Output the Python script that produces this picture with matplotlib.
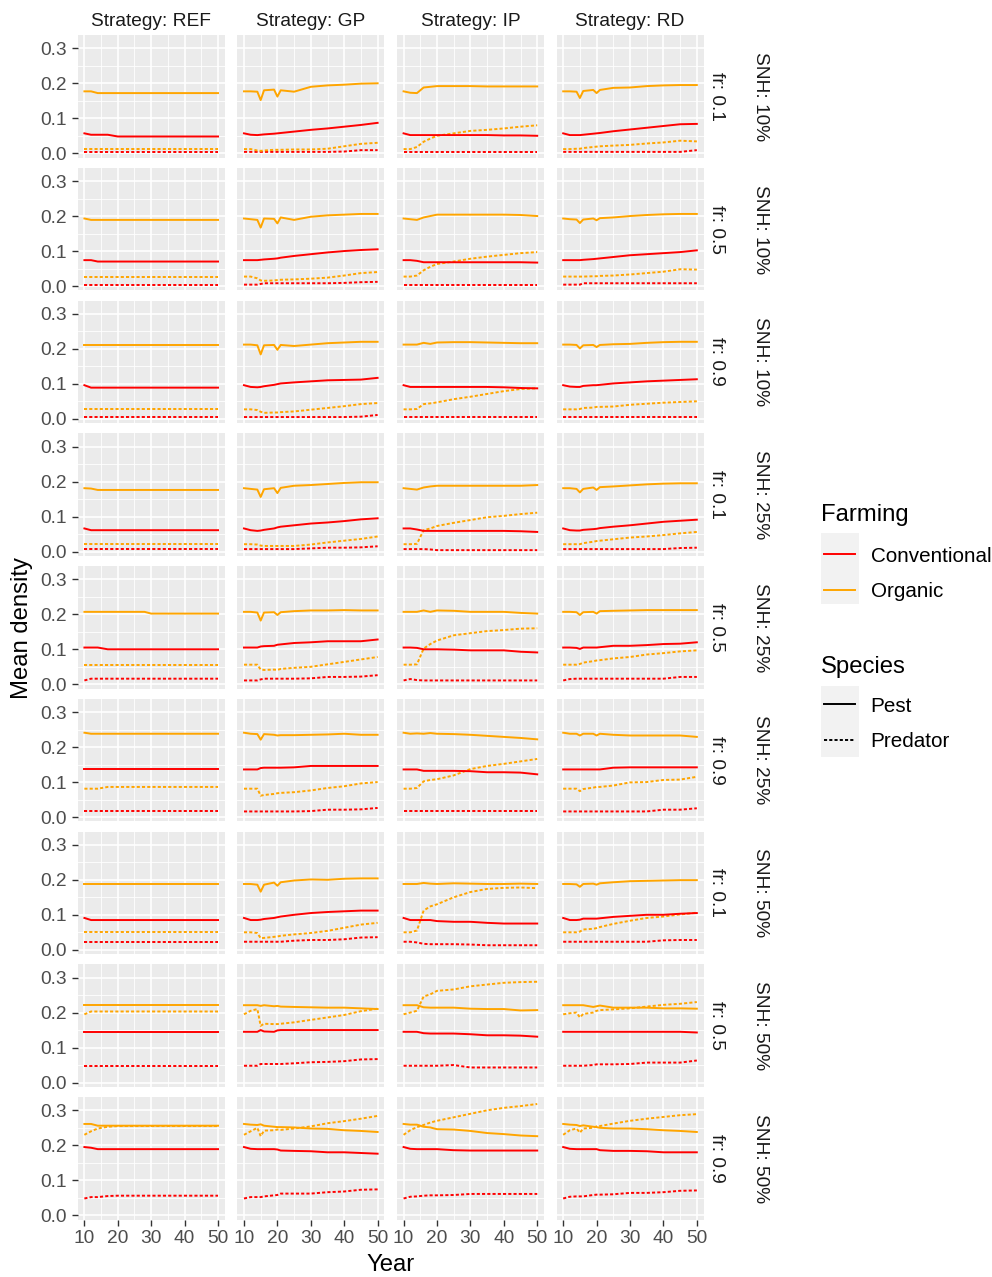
import numpy as np
import matplotlib.pyplot as plt
from matplotlib.patches import Rectangle
from matplotlib.lines import Line2D

plt.rcParams['font.family'] = ['Liberation Sans', 'DejaVu Sans']

# ---- data ----
STRATEGIES = ["REF", "GP", "IP", "RD"]
FR_LABELS = ["fr: 0.1", "fr: 0.5", "fr: 0.9"] * 3
SNH_LABELS = ["SNH: 10%"] * 3 + ["SNH: 25%"] * 3 + ["SNH: 50%"] * 3

REF_YEARS = [10, 12, 14, 17, 20, 28, 30, 50]
REF_CONV_PEST = [
    [0.057, 0.053, 0.053, 0.053, 0.048, 0.048, 0.048, 0.048],
    [0.074, 0.074, 0.070, 0.070, 0.070, 0.070, 0.070, 0.070],
    [0.096, 0.089, 0.089, 0.089, 0.089, 0.089, 0.089, 0.089],
    [0.066, 0.061, 0.061, 0.061, 0.061, 0.061, 0.061, 0.061],
    [0.105, 0.105, 0.105, 0.100, 0.100, 0.100, 0.100, 0.100],
    [0.136, 0.136, 0.136, 0.136, 0.136, 0.136, 0.136, 0.136],
    [0.091, 0.085, 0.085, 0.085, 0.085, 0.085, 0.085, 0.085],
    [0.145, 0.145, 0.145, 0.145, 0.145, 0.145, 0.145, 0.145],
    [0.195, 0.193, 0.189, 0.189, 0.189, 0.189, 0.189, 0.189],
]
REF_CONV_PRED = [
    [0.004, 0.004, 0.004, 0.004, 0.004, 0.004, 0.004, 0.004],
    [0.004, 0.004, 0.004, 0.004, 0.004, 0.004, 0.004, 0.004],
    [0.005, 0.005, 0.005, 0.005, 0.005, 0.005, 0.005, 0.005],
    [0.007, 0.007, 0.007, 0.007, 0.007, 0.007, 0.007, 0.007],
    [0.011, 0.016, 0.016, 0.016, 0.016, 0.016, 0.016, 0.016],
    [0.016, 0.016, 0.016, 0.016, 0.016, 0.016, 0.016, 0.016],
    [0.023, 0.023, 0.023, 0.023, 0.023, 0.023, 0.023, 0.023],
    [0.048, 0.048, 0.048, 0.048, 0.048, 0.048, 0.048, 0.048],
    [0.048, 0.052, 0.052, 0.055, 0.056, 0.056, 0.056, 0.056],
]
REF_ORG_PEST = [
    [0.177, 0.177, 0.172, 0.172, 0.172, 0.172, 0.172, 0.172],
    [0.193, 0.189, 0.189, 0.189, 0.189, 0.189, 0.189, 0.189],
    [0.212, 0.212, 0.212, 0.212, 0.212, 0.212, 0.212, 0.212],
    [0.181, 0.180, 0.176, 0.176, 0.176, 0.176, 0.176, 0.176],
    [0.207, 0.207, 0.207, 0.207, 0.207, 0.207, 0.202, 0.202],
    [0.241, 0.238, 0.238, 0.238, 0.238, 0.238, 0.238, 0.238],
    [0.188, 0.188, 0.188, 0.188, 0.188, 0.188, 0.188, 0.188],
    [0.221, 0.221, 0.221, 0.221, 0.221, 0.221, 0.221, 0.221],
    [0.261, 0.261, 0.256, 0.256, 0.256, 0.256, 0.256, 0.256],
]
REF_ORG_PRED = [
    [0.012, 0.012, 0.012, 0.012, 0.012, 0.012, 0.012, 0.012],
    [0.027, 0.027, 0.027, 0.027, 0.027, 0.027, 0.027, 0.027],
    [0.027, 0.027, 0.027, 0.027, 0.027, 0.027, 0.027, 0.027],
    [0.021, 0.021, 0.021, 0.021, 0.021, 0.021, 0.021, 0.021],
    [0.056, 0.056, 0.056, 0.056, 0.056, 0.056, 0.056, 0.056],
    [0.081, 0.081, 0.081, 0.086, 0.086, 0.086, 0.086, 0.086],
    [0.050, 0.050, 0.050, 0.050, 0.050, 0.050, 0.050, 0.050],
    [0.195, 0.203, 0.203, 0.203, 0.203, 0.203, 0.203, 0.203],
    [0.230, 0.240, 0.248, 0.253, 0.255, 0.255, 0.255, 0.255],
]

GP_YEARS = [10, 12, 14, 15, 16, 19, 20, 21, 25, 30, 35, 40, 45, 50]
GP_CONV_PEST = [
    [0.057, 0.053, 0.052, 0.053, 0.054, 0.056, 0.057, 0.058, 0.062, 0.067, 0.071, 0.076, 0.081, 0.087],
    [0.074, 0.074, 0.074, 0.075, 0.076, 0.078, 0.079, 0.081, 0.086, 0.091, 0.096, 0.100, 0.103, 0.105],
    [0.096, 0.091, 0.090, 0.091, 0.093, 0.097, 0.099, 0.101, 0.104, 0.107, 0.110, 0.111, 0.112, 0.117],
    [0.066, 0.061, 0.059, 0.060, 0.062, 0.066, 0.069, 0.071, 0.075, 0.080, 0.083, 0.087, 0.092, 0.095],
    [0.105, 0.105, 0.105, 0.108, 0.109, 0.110, 0.113, 0.114, 0.118, 0.120, 0.123, 0.123, 0.123, 0.128],
    [0.136, 0.136, 0.136, 0.140, 0.141, 0.141, 0.141, 0.141, 0.142, 0.146, 0.146, 0.146, 0.146, 0.146],
    [0.091, 0.085, 0.085, 0.086, 0.088, 0.091, 0.093, 0.095, 0.100, 0.105, 0.108, 0.110, 0.112, 0.112],
    [0.145, 0.145, 0.145, 0.150, 0.146, 0.145, 0.149, 0.150, 0.150, 0.150, 0.150, 0.150, 0.150, 0.150],
    [0.195, 0.190, 0.189, 0.189, 0.189, 0.189, 0.188, 0.185, 0.184, 0.183, 0.180, 0.180, 0.178, 0.176],
]
GP_CONV_PRED = [
    [0.004, 0.004, 0.004, 0.004, 0.004, 0.004, 0.004, 0.004, 0.004, 0.004, 0.004, 0.005, 0.009, 0.009],
    [0.004, 0.004, 0.004, 0.006, 0.008, 0.008, 0.008, 0.008, 0.008, 0.008, 0.008, 0.009, 0.011, 0.012],
    [0.005, 0.005, 0.005, 0.005, 0.005, 0.005, 0.005, 0.005, 0.005, 0.005, 0.005, 0.005, 0.006, 0.011],
    [0.007, 0.007, 0.007, 0.007, 0.007, 0.007, 0.007, 0.007, 0.007, 0.009, 0.011, 0.011, 0.012, 0.015],
    [0.011, 0.011, 0.011, 0.014, 0.016, 0.016, 0.016, 0.016, 0.016, 0.017, 0.021, 0.021, 0.022, 0.026],
    [0.016, 0.016, 0.016, 0.016, 0.016, 0.016, 0.016, 0.016, 0.016, 0.017, 0.021, 0.021, 0.022, 0.026],
    [0.023, 0.023, 0.023, 0.023, 0.023, 0.023, 0.023, 0.023, 0.026, 0.028, 0.028, 0.030, 0.035, 0.036],
    [0.048, 0.048, 0.048, 0.053, 0.053, 0.053, 0.053, 0.053, 0.055, 0.058, 0.059, 0.061, 0.066, 0.067],
    [0.048, 0.052, 0.052, 0.052, 0.054, 0.057, 0.058, 0.062, 0.062, 0.062, 0.066, 0.068, 0.073, 0.074],
]
GP_ORG_PEST = [
    [0.177, 0.177, 0.176, 0.152, 0.180, 0.182, 0.162, 0.180, 0.176, 0.190, 0.194, 0.196, 0.199, 0.200],
    [0.193, 0.191, 0.189, 0.167, 0.193, 0.192, 0.179, 0.196, 0.189, 0.198, 0.202, 0.204, 0.206, 0.206],
    [0.212, 0.212, 0.210, 0.184, 0.210, 0.211, 0.197, 0.211, 0.208, 0.212, 0.216, 0.218, 0.220, 0.220],
    [0.181, 0.179, 0.177, 0.156, 0.178, 0.181, 0.167, 0.182, 0.188, 0.190, 0.193, 0.196, 0.198, 0.198],
    [0.207, 0.207, 0.205, 0.182, 0.205, 0.206, 0.198, 0.206, 0.209, 0.211, 0.211, 0.212, 0.211, 0.211],
    [0.241, 0.238, 0.237, 0.221, 0.237, 0.235, 0.233, 0.234, 0.234, 0.235, 0.236, 0.238, 0.235, 0.235],
    [0.188, 0.188, 0.186, 0.166, 0.186, 0.192, 0.183, 0.193, 0.198, 0.201, 0.200, 0.203, 0.204, 0.204],
    [0.221, 0.221, 0.221, 0.219, 0.221, 0.218, 0.219, 0.217, 0.216, 0.215, 0.214, 0.214, 0.212, 0.210],
    [0.261, 0.259, 0.258, 0.260, 0.256, 0.253, 0.252, 0.252, 0.251, 0.248, 0.247, 0.243, 0.241, 0.238],
]
GP_ORG_PRED = [
    [0.012, 0.012, 0.008, 0.007, 0.008, 0.010, 0.010, 0.010, 0.011, 0.011, 0.013, 0.020, 0.027, 0.030],
    [0.027, 0.027, 0.022, 0.016, 0.015, 0.016, 0.017, 0.018, 0.019, 0.021, 0.024, 0.030, 0.037, 0.040],
    [0.027, 0.027, 0.025, 0.020, 0.017, 0.018, 0.018, 0.019, 0.021, 0.026, 0.031, 0.036, 0.042, 0.045],
    [0.021, 0.021, 0.020, 0.017, 0.016, 0.016, 0.016, 0.016, 0.016, 0.020, 0.026, 0.031, 0.036, 0.043],
    [0.056, 0.056, 0.056, 0.042, 0.041, 0.042, 0.041, 0.044, 0.047, 0.050, 0.057, 0.064, 0.071, 0.078],
    [0.081, 0.081, 0.081, 0.061, 0.063, 0.066, 0.068, 0.069, 0.071, 0.076, 0.083, 0.088, 0.096, 0.100],
    [0.050, 0.050, 0.048, 0.033, 0.034, 0.037, 0.038, 0.040, 0.044, 0.048, 0.054, 0.063, 0.072, 0.077],
    [0.195, 0.205, 0.210, 0.162, 0.168, 0.167, 0.167, 0.168, 0.172, 0.179, 0.186, 0.193, 0.204, 0.211],
    [0.230, 0.240, 0.250, 0.226, 0.242, 0.243, 0.245, 0.244, 0.248, 0.254, 0.263, 0.269, 0.276, 0.284],
]

IP_YEARS = [10, 12, 14, 16, 18, 20, 25, 30, 35, 40, 45, 50]
IP_CONV_PEST = [
    [0.057, 0.052, 0.052, 0.052, 0.052, 0.052, 0.052, 0.052, 0.052, 0.051, 0.051, 0.050],
    [0.074, 0.074, 0.072, 0.068, 0.068, 0.068, 0.068, 0.068, 0.068, 0.068, 0.068, 0.067],
    [0.096, 0.091, 0.091, 0.091, 0.091, 0.091, 0.091, 0.091, 0.091, 0.090, 0.088, 0.087],
    [0.066, 0.066, 0.063, 0.059, 0.059, 0.059, 0.059, 0.059, 0.059, 0.059, 0.058, 0.056],
    [0.105, 0.105, 0.104, 0.100, 0.100, 0.100, 0.099, 0.097, 0.097, 0.097, 0.093, 0.091],
    [0.136, 0.136, 0.136, 0.132, 0.132, 0.132, 0.132, 0.131, 0.128, 0.128, 0.127, 0.122],
    [0.091, 0.085, 0.085, 0.085, 0.085, 0.082, 0.080, 0.080, 0.077, 0.075, 0.075, 0.075],
    [0.145, 0.145, 0.145, 0.141, 0.140, 0.140, 0.140, 0.138, 0.135, 0.135, 0.134, 0.131],
    [0.195, 0.190, 0.189, 0.189, 0.189, 0.189, 0.186, 0.185, 0.185, 0.185, 0.185, 0.185],
]
IP_CONV_PRED = [
    [0.004, 0.004, 0.004, 0.004, 0.004, 0.004, 0.004, 0.004, 0.004, 0.004, 0.004, 0.004],
    [0.004, 0.004, 0.004, 0.004, 0.004, 0.004, 0.004, 0.004, 0.004, 0.004, 0.004, 0.004],
    [0.005, 0.005, 0.005, 0.005, 0.005, 0.005, 0.005, 0.005, 0.005, 0.005, 0.005, 0.005],
    [0.007, 0.007, 0.007, 0.007, 0.006, 0.004, 0.004, 0.004, 0.004, 0.004, 0.004, 0.004],
    [0.011, 0.015, 0.012, 0.011, 0.011, 0.011, 0.011, 0.011, 0.011, 0.011, 0.011, 0.011],
    [0.016, 0.016, 0.016, 0.016, 0.016, 0.016, 0.016, 0.016, 0.016, 0.016, 0.016, 0.016],
    [0.023, 0.023, 0.021, 0.017, 0.016, 0.016, 0.016, 0.015, 0.013, 0.013, 0.013, 0.013],
    [0.048, 0.048, 0.048, 0.048, 0.048, 0.048, 0.050, 0.043, 0.043, 0.043, 0.043, 0.043],
    [0.048, 0.053, 0.054, 0.056, 0.057, 0.057, 0.058, 0.061, 0.061, 0.061, 0.061, 0.061],
]
IP_ORG_PEST = [
    [0.177, 0.173, 0.172, 0.188, 0.190, 0.192, 0.192, 0.192, 0.191, 0.191, 0.191, 0.191],
    [0.193, 0.191, 0.189, 0.196, 0.200, 0.204, 0.204, 0.204, 0.204, 0.204, 0.203, 0.200],
    [0.212, 0.212, 0.212, 0.217, 0.214, 0.218, 0.219, 0.219, 0.218, 0.217, 0.216, 0.216],
    [0.181, 0.179, 0.177, 0.183, 0.186, 0.188, 0.188, 0.188, 0.188, 0.188, 0.188, 0.190],
    [0.207, 0.207, 0.207, 0.211, 0.207, 0.211, 0.210, 0.207, 0.207, 0.207, 0.204, 0.202],
    [0.241, 0.238, 0.239, 0.238, 0.240, 0.238, 0.237, 0.235, 0.232, 0.229, 0.226, 0.222],
    [0.188, 0.188, 0.188, 0.191, 0.189, 0.188, 0.190, 0.189, 0.188, 0.188, 0.189, 0.188],
    [0.221, 0.221, 0.221, 0.215, 0.214, 0.214, 0.214, 0.211, 0.210, 0.210, 0.206, 0.207],
    [0.261, 0.259, 0.259, 0.253, 0.251, 0.246, 0.245, 0.241, 0.235, 0.232, 0.228, 0.226],
]
IP_ORG_PRED = [
    [0.012, 0.012, 0.018, 0.033, 0.042, 0.050, 0.057, 0.064, 0.067, 0.071, 0.076, 0.080],
    [0.027, 0.027, 0.030, 0.045, 0.055, 0.063, 0.070, 0.078, 0.084, 0.089, 0.094, 0.097],
    [0.027, 0.027, 0.028, 0.042, 0.044, 0.047, 0.056, 0.063, 0.071, 0.079, 0.085, 0.087],
    [0.021, 0.021, 0.022, 0.061, 0.066, 0.073, 0.082, 0.090, 0.098, 0.102, 0.107, 0.111],
    [0.056, 0.056, 0.057, 0.102, 0.115, 0.125, 0.140, 0.146, 0.152, 0.155, 0.159, 0.160],
    [0.081, 0.081, 0.083, 0.102, 0.106, 0.108, 0.119, 0.137, 0.146, 0.152, 0.159, 0.166],
    [0.050, 0.050, 0.055, 0.112, 0.124, 0.130, 0.150, 0.165, 0.174, 0.177, 0.178, 0.176],
    [0.195, 0.200, 0.205, 0.246, 0.252, 0.262, 0.266, 0.275, 0.280, 0.285, 0.287, 0.288],
    [0.230, 0.243, 0.252, 0.258, 0.265, 0.270, 0.280, 0.290, 0.300, 0.307, 0.312, 0.318],
]

RD_YEARS = [10, 12, 14, 15, 16, 19, 20, 21, 25, 30, 35, 40, 45, 50]
RD_CONV_PEST = [
    [0.057, 0.052, 0.052, 0.052, 0.053, 0.056, 0.057, 0.058, 0.063, 0.068, 0.073, 0.078, 0.083, 0.084],
    [0.074, 0.074, 0.074, 0.074, 0.075, 0.077, 0.078, 0.079, 0.083, 0.088, 0.091, 0.094, 0.097, 0.102],
    [0.096, 0.092, 0.091, 0.091, 0.094, 0.096, 0.096, 0.097, 0.101, 0.104, 0.107, 0.109, 0.111, 0.113],
    [0.066, 0.061, 0.060, 0.060, 0.062, 0.064, 0.065, 0.067, 0.071, 0.075, 0.080, 0.085, 0.088, 0.091],
    [0.105, 0.105, 0.104, 0.101, 0.105, 0.105, 0.105, 0.106, 0.110, 0.110, 0.112, 0.115, 0.116, 0.120],
    [0.136, 0.136, 0.136, 0.136, 0.136, 0.136, 0.136, 0.136, 0.141, 0.142, 0.142, 0.142, 0.142, 0.142],
    [0.091, 0.085, 0.085, 0.086, 0.089, 0.089, 0.089, 0.090, 0.094, 0.097, 0.100, 0.100, 0.103, 0.105],
    [0.145, 0.145, 0.145, 0.145, 0.145, 0.145, 0.145, 0.145, 0.145, 0.145, 0.145, 0.145, 0.145, 0.143],
    [0.195, 0.190, 0.189, 0.189, 0.189, 0.189, 0.189, 0.186, 0.184, 0.184, 0.183, 0.180, 0.180, 0.180],
]
RD_CONV_PRED = [
    [0.004, 0.004, 0.004, 0.004, 0.004, 0.004, 0.004, 0.004, 0.004, 0.004, 0.004, 0.004, 0.004, 0.009],
    [0.004, 0.004, 0.004, 0.004, 0.008, 0.008, 0.008, 0.008, 0.008, 0.008, 0.008, 0.008, 0.008, 0.008],
    [0.005, 0.005, 0.005, 0.005, 0.005, 0.005, 0.005, 0.005, 0.005, 0.005, 0.005, 0.005, 0.005, 0.005],
    [0.007, 0.007, 0.007, 0.007, 0.007, 0.007, 0.007, 0.007, 0.007, 0.007, 0.007, 0.007, 0.010, 0.011],
    [0.011, 0.015, 0.016, 0.016, 0.016, 0.016, 0.016, 0.016, 0.016, 0.016, 0.016, 0.016, 0.021, 0.021],
    [0.016, 0.016, 0.016, 0.016, 0.016, 0.016, 0.016, 0.016, 0.016, 0.016, 0.016, 0.021, 0.021, 0.025],
    [0.023, 0.023, 0.023, 0.023, 0.023, 0.023, 0.023, 0.023, 0.023, 0.023, 0.023, 0.027, 0.028, 0.028],
    [0.048, 0.048, 0.048, 0.048, 0.048, 0.050, 0.052, 0.052, 0.052, 0.053, 0.057, 0.057, 0.057, 0.063],
    [0.048, 0.053, 0.054, 0.054, 0.054, 0.058, 0.059, 0.059, 0.060, 0.064, 0.064, 0.066, 0.070, 0.071],
]
RD_ORG_PEST = [
    [0.177, 0.177, 0.176, 0.158, 0.178, 0.181, 0.172, 0.181, 0.187, 0.188, 0.192, 0.194, 0.195, 0.195],
    [0.193, 0.191, 0.190, 0.180, 0.190, 0.193, 0.188, 0.194, 0.196, 0.200, 0.203, 0.205, 0.206, 0.206],
    [0.212, 0.212, 0.211, 0.201, 0.210, 0.211, 0.205, 0.211, 0.213, 0.214, 0.217, 0.219, 0.220, 0.220],
    [0.181, 0.181, 0.179, 0.169, 0.179, 0.183, 0.176, 0.184, 0.186, 0.189, 0.192, 0.194, 0.195, 0.195],
    [0.207, 0.207, 0.206, 0.198, 0.206, 0.207, 0.202, 0.209, 0.210, 0.211, 0.212, 0.212, 0.212, 0.212],
    [0.241, 0.238, 0.238, 0.233, 0.238, 0.238, 0.233, 0.238, 0.235, 0.233, 0.233, 0.233, 0.233, 0.229],
    [0.188, 0.188, 0.187, 0.180, 0.188, 0.189, 0.186, 0.190, 0.193, 0.196, 0.197, 0.198, 0.199, 0.199],
    [0.221, 0.221, 0.221, 0.221, 0.221, 0.216, 0.218, 0.220, 0.214, 0.214, 0.214, 0.212, 0.212, 0.211],
    [0.261, 0.259, 0.258, 0.255, 0.257, 0.253, 0.252, 0.250, 0.248, 0.248, 0.246, 0.243, 0.241, 0.238],
]
RD_ORG_PRED = [
    [0.012, 0.012, 0.013, 0.013, 0.015, 0.018, 0.019, 0.020, 0.022, 0.024, 0.028, 0.031, 0.036, 0.034],
    [0.027, 0.027, 0.027, 0.027, 0.027, 0.028, 0.028, 0.029, 0.030, 0.033, 0.037, 0.041, 0.048, 0.047],
    [0.027, 0.027, 0.027, 0.028, 0.031, 0.032, 0.034, 0.034, 0.035, 0.040, 0.043, 0.046, 0.048, 0.050],
    [0.021, 0.021, 0.021, 0.021, 0.024, 0.028, 0.030, 0.031, 0.035, 0.040, 0.043, 0.047, 0.052, 0.056],
    [0.056, 0.056, 0.056, 0.058, 0.062, 0.066, 0.068, 0.069, 0.074, 0.078, 0.085, 0.089, 0.094, 0.097],
    [0.081, 0.081, 0.081, 0.074, 0.080, 0.084, 0.086, 0.086, 0.090, 0.099, 0.100, 0.106, 0.107, 0.115],
    [0.050, 0.050, 0.050, 0.052, 0.058, 0.060, 0.062, 0.065, 0.074, 0.083, 0.091, 0.095, 0.101, 0.106],
    [0.195, 0.198, 0.200, 0.186, 0.196, 0.200, 0.205, 0.207, 0.209, 0.212, 0.217, 0.222, 0.225, 0.230],
    [0.230, 0.243, 0.248, 0.236, 0.248, 0.250, 0.254, 0.255, 0.262, 0.270, 0.276, 0.281, 0.286, 0.289],
]

DATA = {
    "REF": (REF_YEARS, REF_CONV_PEST, REF_CONV_PRED, REF_ORG_PEST, REF_ORG_PRED),
    "GP": (GP_YEARS, GP_CONV_PEST, GP_CONV_PRED, GP_ORG_PEST, GP_ORG_PRED),
    "IP": (IP_YEARS, IP_CONV_PEST, IP_CONV_PRED, IP_ORG_PEST, IP_ORG_PRED),
    "RD": (RD_YEARS, RD_CONV_PEST, RD_CONV_PRED, RD_ORG_PEST, RD_ORG_PRED),
}

# ---- styling ----
RED = "#FF0000"
ORANGE = "#FFA500"
LW = 1.4
DOT = (0, (1.6, 1.1))
SMALL = 13.8
LEG = 14.9
BIG = 17.2

W, H = 992, 1277
PANEL_L, PANEL_T = 77.7, 35.0
PW, PH = 147.0, 122.7
DX, DY = 159.6, 132.75

fig = plt.figure(figsize=(W / 100, H / 100), dpi=100)
fig.patch.set_facecolor("white")

for i in range(9):
    for j, s in enumerate(STRATEGIES):
        left = PANEL_L + j * DX
        top = PANEL_T + i * DY
        ax = fig.add_axes([left / W, 1 - (top + PH) / H, PW / W, PH / H])
        ax.set_facecolor("#EBEBEB")
        for sp in ax.spines.values():
            sp.set_visible(False)
        ax.set_xlim(8, 52)
        ax.set_ylim(-0.0126, 0.338)
        ax.set_xticks([10, 20, 30, 40, 50])
        ax.set_xticks([15, 25, 35, 45], minor=True)
        ax.set_yticks([0.0, 0.1, 0.2, 0.3])
        ax.set_yticks([0.05, 0.15, 0.25], minor=True)
        ax.set_yticklabels(["0.0", "0.1", "0.2", "0.3"])
        ax.grid(which="major", color="white", lw=1.2)
        ax.grid(which="minor", color="white", lw=0.6)
        ax.set_axisbelow(True)
        ax.tick_params(which="major", length=4.3, width=1.0, color="#333333",
                       labelsize=SMALL, labelcolor="#4D4D4D", pad=3.3)
        ax.tick_params(which="minor", length=0)
        if j > 0:
            ax.tick_params(axis="y", which="major", length=0, labelleft=False)
        if i < 8:
            ax.tick_params(axis="x", which="major", length=0, labelbottom=False)

        years, cpest, cpred, opest, opred = DATA[s]
        ax.plot(years, cpred[i], color=RED, lw=LW, ls=DOT)
        ax.plot(years, opred[i], color=ORANGE, lw=LW, ls=DOT)
        ax.plot(years, cpest[i], color=RED, lw=LW)
        ax.plot(years, opest[i], color=ORANGE, lw=LW)

        if i == 0:
            fig.text((left + PW / 2) / W, 1 - 26.5 / H, "Strategy: " + s,
                     ha="center", va="baseline", size=SMALL, color="#1A1A1A")
        if j == 3:
            yc = 1 - (top + PH / 2) / H
            fig.text(716 / W, yc, FR_LABELS[i], rotation=270, ha="center",
                     va="center", size=SMALL, color="#1A1A1A")
            fig.text(761 / W, yc, SNH_LABELS[i], rotation=270, ha="center",
                     va="center", size=SMALL, color="#1A1A1A")

fig.text(391 / W, 1 - 1265 / H, "Year", ha="center", va="center", size=BIG)
fig.text(22 / W, 1 - 628 / H, "Mean density", ha="center", va="center",
         rotation=90, size=BIG)

# ---- legend ----
lax = fig.add_axes([0, 0, 1, 1])
lax.set_xlim(0, W)
lax.set_ylim(H, 0)
lax.axis("off")

lax.text(821, 521, "Farming", size=BIG, va="baseline", ha="left")
lax.add_patch(Rectangle((820.7, 533), 38.3, 71, color="#F2F2F2", lw=0))
for k, (lab, col) in enumerate([("Conventional", RED), ("Organic", ORANGE)]):
    yy = 554 + k * 35.5
    lax.add_line(Line2D([824, 855], [yy, yy], color=col, lw=LW))
    lax.text(870.7, yy + 7.5, lab, size=LEG, va="baseline", ha="left")

lax.text(821, 672.5, "Species", size=BIG, va="baseline", ha="left")
lax.add_patch(Rectangle((820.7, 685.7), 38.3, 71, color="#F2F2F2", lw=0))
for k, (lab, ls) in enumerate([("Pest", "-"), ("Predator", DOT)]):
    yy = 704 + k * 35.5
    lax.add_line(Line2D([824, 855], [yy, yy], color="black", lw=LW, ls=ls))
    lax.text(870.7, yy + 7.5, lab, size=LEG, va="baseline", ha="left")

fig.savefig("out.png", dpi=100)
